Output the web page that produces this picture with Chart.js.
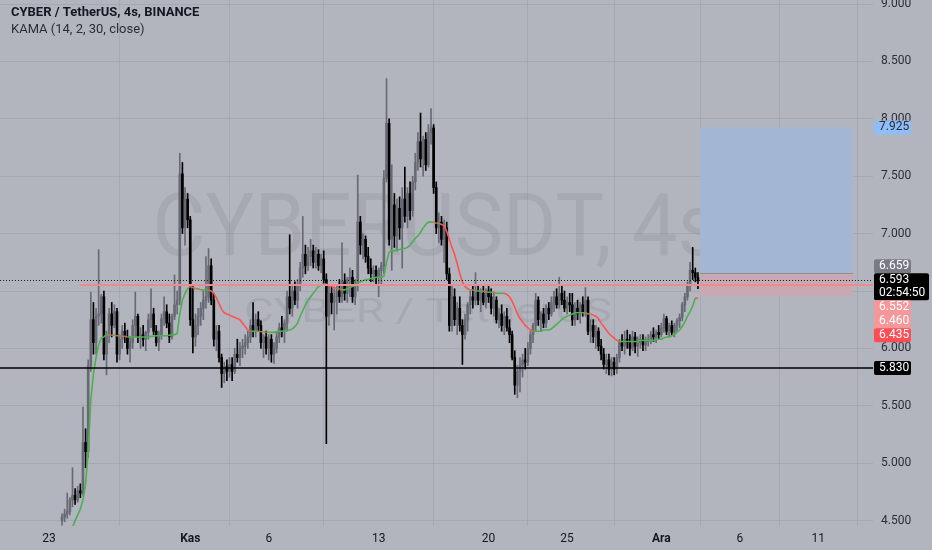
<!DOCTYPE html>
<html>
<head>
<meta charset="utf-8">
<script src="https://cdn.jsdelivr.net/npm/chart.js@4.4.0/dist/chart.umd.min.js"></script>
<style>
  html, body { margin: 0; padding: 0; background: #b2b5be; }
  canvas { display: block; }
</style>
</head>
<body>
<canvas id="chart" width="932" height="550"></canvas>
<script>
// 4h candles, slot 0 = 23 Eki 00:00, first candle at 23 Eki 20:00
const firstSlot = 5;

const opens = [
  4.50,4.53,4.56,4.58,4.68, 4.72,4.68,4.76,4.74,5.18, 5.10,5.85,6.25,6.05,6.28, 6.30,6.45,5.95,6.12,6.30,
  6.20,6.32,5.95,6.08,6.15, 6.10,6.00,6.05,6.20,6.28, 6.10,6.12,6.08,6.14,6.25, 6.30,6.15,6.05,6.12,6.26,
  6.32,6.22,6.10,6.28,6.38, 6.42,7.52,7.05,7.30,7.12, 6.25,6.10,6.20,6.28,6.35, 6.42,6.45,6.72,6.42,6.08,
  6.15,5.92,5.78,5.84,5.80, 5.86,5.80,5.95,5.92,6.00, 6.02,6.05,6.10,6.20,6.15, 6.25,6.20,6.05,6.10,6.00,
  6.08,5.95,6.00,6.10,6.18, 6.15,6.22,6.45,6.35,6.50, 6.42,6.55,6.70,6.82,6.72, 6.80,6.85,6.75,6.82,6.72,
  6.78,6.60,6.28,6.48,6.40, 6.45,6.50,6.45,6.58,6.48, 6.60,6.62,6.45,6.55,7.10, 6.90,6.95,6.80,6.70,6.65,
  6.68,6.62,6.68,6.72,7.48, 7.96,6.95,7.25,6.98,7.22, 7.05,7.30,7.15,7.35,7.20, 7.45,7.62,7.80,7.65,7.82,
  7.60,7.88,7.92,7.40,7.05, 7.10,6.95,7.05,6.65,6.20, 6.45,6.25,6.35,6.20,6.12, 6.25,6.38,6.45,6.42,6.50,
  6.42,6.48,6.40,6.50,6.45, 6.35,6.42,6.25,6.30,6.20, 6.28,6.18,6.12,5.92,5.68, 5.80,5.86,5.90,5.88,6.00,
  6.12,6.20,6.42,6.25,6.30, 6.22,6.35,6.30,6.40,6.45, 6.38,6.48,6.42,6.35,6.40, 6.38,6.25,6.35,6.30,6.38,
  6.32,6.42,6.15,6.20,6.10, 6.15,6.02,5.95,5.86,5.90, 5.82,5.88,5.82,5.92,6.05, 6.02,6.08,6.05,6.00,6.10,
  6.02,6.05,6.08,6.03,6.06, 6.08,6.12,6.10,6.14,6.12, 6.18,6.26,6.15,6.20,6.14, 6.20,6.24,6.27,6.38,6.45,
  6.55,6.68,6.66,6.62
];
const highs = [
  4.56,4.60,4.74,4.70,4.96, 4.78,4.80,4.82,5.49,5.30, 5.90,6.49,6.40,6.35,6.86, 6.47,6.50,6.15,6.35,6.40,
  6.38,6.35,6.12,6.20,6.22, 6.16,6.10,6.25,6.49,6.30, 6.18,6.20,6.15,6.30,6.52, 6.35,6.20,6.15,6.30,6.45,
  6.38,6.30,6.30,6.64,6.50, 7.70,7.62,7.40,7.35,7.15, 6.55,6.30,6.35,6.40,6.50, 6.80,6.87,6.78,6.48,6.20,
  6.20,5.95,5.88,5.90,5.92, 5.92,6.00,6.08,6.05,6.08, 6.12,6.15,6.25,6.40,6.30, 6.32,6.24,6.12,6.15,6.12,
  6.12,6.05,6.15,6.22,6.28, 6.25,6.50,6.99,6.55,6.58, 6.60,6.75,7.15,6.90,6.88, 6.95,6.90,6.88,6.86,6.82,
  6.85,6.65,6.55,6.55,6.52, 6.55,6.60,6.92,6.65,6.62, 6.70,6.68,6.60,7.51,7.15, 7.00,6.98,6.88,6.78,6.72,
  6.72,6.70,6.75,7.55,8.35, 8.00,7.60,7.35,7.30,7.32, 7.40,7.58,7.40,7.45,7.50, 7.70,7.88,8.05,7.85,7.88,
  7.95,8.09,7.95,7.45,7.18, 7.15,7.12,7.10,6.70,6.55, 6.52,6.40,6.45,6.25,6.30, 6.40,6.50,6.55,6.66,6.55,
  6.52,6.55,6.52,6.55,6.52, 6.48,6.45,6.35,6.38,6.32, 6.35,6.25,6.15,5.98,5.85, 5.92,5.95,6.00,6.05,6.15,
  6.22,6.48,6.45,6.32,6.35, 6.38,6.40,6.45,6.50,6.52, 6.62,6.55,6.50,6.45,6.48, 6.48,6.40,6.42,6.40,6.45,
  6.53,6.45,6.25,6.25,6.20, 6.18,6.08,6.00,5.95,5.95, 5.92,5.92,5.95,6.08,6.12, 6.15,6.16,6.12,6.15,6.14,
  6.10,6.12,6.12,6.10,6.12, 6.15,6.18,6.16,6.20,6.22, 6.30,6.28,6.22,6.24,6.22, 6.26,6.30,6.40,6.48,6.58,
  6.75,6.88,6.70,6.66
];
const lows = [
  4.46,4.49,4.52,4.55,4.62, 4.64,4.66,4.70,4.72,4.96, 5.05,5.80,5.95,5.95,6.20, 6.22,5.90,5.77,6.05,6.10,
  6.18,5.88,5.90,6.00,6.05, 5.95,5.88,6.00,6.10,6.05, 6.00,6.02,5.98,6.08,6.18, 6.12,6.02,5.98,6.08,6.20,
  6.18,6.05,6.08,6.25,6.30, 6.38,7.00,6.90,7.05,6.20, 5.96,6.02,6.12,6.20,6.25, 6.35,6.40,6.38,6.02,5.98,
  5.88,5.66,5.70,5.72,5.75, 5.72,5.78,5.88,5.85,5.92, 5.95,6.00,6.05,6.10,6.10, 6.15,6.00,5.92,5.95,5.90,
  5.88,5.87,5.96,6.05,6.10, 6.05,6.15,6.30,6.28,6.38, 6.35,6.50,6.62,6.65,6.68, 6.72,6.70,6.70,6.68,6.66,
  6.55,5.17,6.20,6.30,6.16, 6.30,6.40,6.40,6.42,6.40, 6.45,6.40,6.38,6.50,6.82, 6.78,6.75,6.65,6.58,6.58,
  6.55,6.45,6.55,6.65,7.45, 6.90,6.68,6.88,6.85,6.95, 6.70,7.10,7.05,7.12,7.15, 7.38,7.55,7.58,7.50,7.55,
  7.58,7.78,7.35,7.00,6.92, 6.90,6.75,6.60,6.15,6.15, 6.20,6.12,6.15,5.86,6.08, 6.15,6.30,6.35,6.38,6.38,
  6.32,6.38,6.35,6.40,6.30, 6.28,6.22,6.18,6.15,6.12, 6.15,6.05,5.90,5.60,5.57, 5.62,5.75,5.82,5.85,5.95,
  6.05,6.15,6.20,6.15,6.18, 6.18,6.25,6.28,6.32,6.35, 6.35,6.38,6.32,6.30,6.32, 6.20,6.20,6.25,6.22,6.28,
  6.28,6.12,6.05,6.05,6.00, 5.98,5.90,5.82,5.78,5.77, 5.76,5.77,5.78,5.88,5.98, 5.95,6.00,5.94,5.98,5.96,
  5.93,6.00,5.98,5.98,6.02, 6.04,6.06,6.05,6.08,6.10, 6.14,6.12,6.10,6.12,6.10, 6.15,6.18,6.24,6.32,6.42,
  6.50,6.60,6.58,6.52
];
const closes = [
  4.53,4.56,4.58,4.68,4.72, 4.68,4.76,4.74,5.18,5.10, 5.85,6.25,6.05,6.28,6.30, 6.45,5.95,6.12,6.30,6.20,
  6.32,5.95,6.08,6.15,6.10, 6.00,6.05,6.20,6.28,6.10, 6.12,6.08,6.14,6.25,6.30, 6.15,6.05,6.12,6.26,6.32,
  6.22,6.10,6.28,6.38,6.42, 7.52,7.05,7.30,7.12,6.25, 6.10,6.20,6.28,6.35,6.42, 6.45,6.72,6.42,6.08,6.15,
  5.92,5.78,5.84,5.80,5.86, 5.80,5.95,5.92,6.00,6.02, 6.05,6.10,6.20,6.15,6.25, 6.20,6.05,6.10,6.00,6.08,
  5.95,6.00,6.10,6.18,6.15, 6.22,6.45,6.35,6.50,6.42, 6.55,6.70,6.82,6.72,6.80, 6.85,6.75,6.82,6.72,6.78,
  6.60,6.28,6.48,6.40,6.45, 6.50,6.45,6.58,6.48,6.60, 6.62,6.45,6.55,7.10,6.90, 6.95,6.80,6.70,6.65,6.68,
  6.62,6.68,6.72,7.48,7.96, 6.95,7.25,6.98,7.22,7.05, 7.30,7.15,7.35,7.20,7.45, 7.62,7.80,7.65,7.82,7.60,
  7.88,7.92,7.40,7.05,7.10, 6.95,7.05,6.65,6.20,6.45, 6.25,6.35,6.20,6.12,6.25, 6.38,6.45,6.42,6.50,6.42,
  6.48,6.40,6.50,6.45,6.35, 6.42,6.25,6.30,6.20,6.28, 6.18,6.12,5.92,5.68,5.80, 5.86,5.90,5.88,6.00,6.12,
  6.20,6.42,6.25,6.30,6.22, 6.35,6.30,6.40,6.45,6.38, 6.48,6.42,6.35,6.40,6.38, 6.25,6.35,6.30,6.38,6.32,
  6.42,6.15,6.20,6.10,6.15, 6.02,5.95,5.86,5.90,5.82, 5.88,5.82,5.92,6.05,6.02, 6.08,6.05,6.00,6.10,6.02,
  6.05,6.08,6.03,6.06,6.08, 6.12,6.10,6.14,6.12,6.18, 6.26,6.15,6.20,6.14,6.20, 6.24,6.27,6.38,6.45,6.55,
  6.68,6.66,6.62,6.593
];
// KAMA (14, 2, 30, close)
const kama = [
  null,null,null,null,4.44, 4.50,4.55,4.60,4.68,4.82, 5.10,5.55,5.78,5.92,6.03, 6.09,6.10,6.12,6.12,6.115,
  6.115,6.11,6.11,6.105,6.105, 6.10,6.10,6.10,6.10,6.10, 6.10,6.10,6.10,6.10,6.105, 6.105,6.11,6.11,6.11,6.11,
  6.11,6.115,6.12,6.12,6.13, 6.30,6.42,6.48,6.52,6.54, 6.53,6.52,6.52,6.51,6.51, 6.51,6.51,6.50,6.48,6.44,
  6.39,6.34,6.31,6.30,6.29, 6.28,6.27,6.26,6.25,6.22, 6.19,6.16,6.15,6.15,6.15, 6.15,6.145,6.145,6.14,6.14,
  6.14,6.14,6.145,6.15,6.15, 6.155,6.16,6.16,6.17,6.19, 6.22,6.28,6.33,6.38,6.42, 6.45,6.48,6.51,6.54,6.55,
  6.56,6.56,6.55,6.54,6.53, 6.52,6.52,6.51,6.51,6.52, 6.53,6.54,6.55,6.57,6.58, 6.59,6.60,6.60,6.61,6.61,
  6.62,6.62,6.62,6.63,6.75, 6.84,6.85,6.85,6.86,6.86, 6.87,6.87,6.88,6.90,6.93, 6.96,6.98,7.01,7.05,7.08,
  7.10,7.10,7.10,7.09,7.09, 7.08,7.07,7.02,6.95,6.88, 6.82,6.74,6.65,6.58,6.54, 6.52,6.51,6.51,6.50,6.50,
  6.50,6.50,6.49,6.49,6.49, 6.49,6.48,6.48,6.48,6.48, 6.47,6.45,6.41,6.36,6.30, 6.26,6.23,6.20,6.18,6.16,
  6.15,6.15,6.15,6.15,6.16, 6.16,6.16,6.17,6.19,6.21, 6.23,6.25,6.27,6.28,6.29, 6.30,6.31,6.31,6.31,6.31,
  6.31,6.30,6.30,6.29,6.28, 6.26,6.22,6.19,6.16,6.13, 6.11,6.09,6.07,6.06,6.06, 6.06,6.06,6.06,6.06,6.06,
  6.06,6.07,6.07,6.07,6.07, 6.07,6.07,6.08,6.08,6.08, 6.09,6.10,6.10,6.11,6.12, 6.14,6.16,6.19,6.23,6.28,
  6.32,6.37,6.44,6.435
];

const xTickSlots = [0, 54, 84, 126, 168, 198, 234, 264, 294];
const xTickLabels = ["23", "Kas", "6", "13", "20", "25", "Ara", "6", "11"];
const monthLabels = ["Kas", "Ara"];
const yTicks = [4.5, 5, 5.5, 6, 6.5, 7, 7.5, 8, 8.5, 9];

// drawings
const supportLevel = 5.830;
const rayLevel = 6.552;
const raySlot = 12;
const lastPrice = 6.593;
const countdown = "02:54:50";
const posFrom = 248.8, posTo = 307.3;
const posTarget = 7.925, posEntry = 6.659, posStop = 6.460;

const FONT = "Roboto, 'Liberation Sans', sans-serif";
const upColor = "#676a74";
const downColor = "#000000";

const candleColor = closes.map((c, i) => c >= opens[i] ? upColor : downColor);

function fitText(ctx, text, size, cx, base, width) {
    ctx.font = size + "px " + FONT;
    const w = ctx.measureText(text).width;
    ctx.save();
    ctx.translate(cx, base);
    ctx.scale(width / w, 1);
    ctx.textAlign = "center";
    ctx.textBaseline = "alphabetic";
    ctx.fillText(text, 0, 0);
    ctx.restore();
}

function tag(ctx, top, h, w, bg, fg, lines) {
    ctx.fillStyle = bg;
    ctx.beginPath();
    ctx.roundRect(874, top, w, h, 2);
    ctx.fill();
    ctx.fillStyle = fg;
    ctx.font = "12px " + FONT;
    ctx.textAlign = "left";
    ctx.textBaseline = "middle";
    lines.forEach((t, k) => ctx.fillText(t, 879, top + 7 + k * 13));
}

const overlay = {
    id: "overlay",
    beforeDatasetsDraw(chart) {
        const { ctx, chartArea: a, scales: { x, y } } = chart;
        ctx.save();
        ctx.fillStyle = "rgba(105,108,120,0.16)";
        fitText(ctx, "CYBERUSDT, 4s", 87, 436, 255, 567);
        fitText(ctx, "CYBER / TetherUS", 33, 428, 322, 368);

        const x0 = x.getPixelForValue(posFrom), x1 = x.getPixelForValue(posTo);
        const yT = y.getPixelForValue(posTarget), yE = y.getPixelForValue(posEntry), yS = y.getPixelForValue(posStop);
        ctx.fillStyle = "#a3b7d4";
        ctx.fillRect(x0, yT, x1 - x0, yE - yT);
        ctx.fillStyle = "#c8a9b1";
        ctx.fillRect(x0, yE, x1 - x0, yS - yE);
        ctx.fillStyle = "#8c8f99";
        ctx.fillRect(x0, Math.round(yE), x1 - x0, 1);
        ctx.restore();
    },
    afterDatasetsDraw(chart) {
        const { ctx, chartArea: a, scales: { x, y } } = chart;
        ctx.save();
        // price line
        const yp = Math.round(y.getPixelForValue(lastPrice)) + 0.5;
        ctx.strokeStyle = "#131722";
        ctx.lineWidth = 1;
        ctx.setLineDash([1, 2]);
        ctx.beginPath(); ctx.moveTo(a.left, yp); ctx.lineTo(a.right, yp); ctx.stroke();
        ctx.setLineDash([]);
        // ray
        const yr = y.getPixelForValue(rayLevel);
        ctx.strokeStyle = "#f08a8f";
        ctx.lineWidth = 2;
        ctx.beginPath(); ctx.moveTo(x.getPixelForValue(raySlot), yr); ctx.lineTo(a.right, yr); ctx.stroke();
        // support
        const ys = y.getPixelForValue(supportLevel);
        ctx.strokeStyle = "#000000";
        ctx.lineWidth = 1.5;
        ctx.beginPath(); ctx.moveTo(a.left, ys); ctx.lineTo(a.right, ys); ctx.stroke();
        ctx.restore();
    },
    afterDraw(chart) {
        const { ctx, scales: { y } } = chart;
        ctx.save();
        // header
        ctx.fillStyle = "#131722";
        ctx.textAlign = "left";
        ctx.textBaseline = "middle";
        ctx.font = "bold 13px " + FONT;
        ctx.fillText("CYBER / TetherUS, 4s, BINANCE", 11, 13);
        ctx.fillStyle = "#2a2e39";
        ctx.font = "13px " + FONT;
        ctx.fillText("KAMA (14, 2, 30, close)", 11, 30);

        // price scale tags
        tag(ctx, y.getPixelForValue(posTarget) - 7, 14, 37, "#8fbdf6", "#2a2e39", [posTarget.toFixed(3)]);
        const pTop = y.getPixelForValue(lastPrice) - 7;
        tag(ctx, pTop - 14, 14, 37, "#787b86", "#ffffff", [posEntry.toFixed(3)]);
        tag(ctx, pTop, 27, 55, "#000000", "#ffffff", [lastPrice.toFixed(3), countdown]);
        tag(ctx, pTop + 27, 14, 37, "#f7979a", "#ffffff", [rayLevel.toFixed(3)]);
        tag(ctx, pTop + 41, 14, 37, "#f7979a", "#ffffff", [posStop.toFixed(3)]);
        tag(ctx, pTop + 55, 14, 37, "#ff4d55", "#ffffff", [kama[kama.length - 1].toFixed(3)]);
        tag(ctx, y.getPixelForValue(supportLevel) - 7, 14, 37, "#000000", "#ffffff", [supportLevel.toFixed(3)]);
        ctx.restore();
    }
};

const gridColor = "rgba(150,153,163,0.45)";

new Chart(document.getElementById("chart"), {
    type: "bar",
    data: {
        datasets: [{
            label: "wick",
            data: highs.map((h, i) => ({ x: firstSlot + i, y: [lows[i], h] })),
            backgroundColor: candleColor,
            barThickness: 1,
            grouped: false,
            order: 3
        }, {
            label: "body",
            data: opens.map((o, i) => ({ x: firstSlot + i, y: [o, closes[i]] })),
            backgroundColor: candleColor,
            barThickness: 2,
            grouped: false,
            order: 2
        }, {
            type: "line",
            label: "KAMA",
            data: kama.map((k, i) => ({ x: firstSlot + i, y: k })),
            borderWidth: 1.6,
            pointRadius: 0,
            spanGaps: false,
            segment: {
                borderColor: c => c.p1.parsed.y < c.p0.parsed.y ? "#ff5252" : "#4caf50"
            },
            order: 1
        }]
    },
    options: {
        responsive: false,
        animation: false,
        devicePixelRatio: 1,
        layout: { padding: 0 },
        plugins: { legend: { display: false }, tooltip: { enabled: false } },
        scales: {
            x: {
                type: "linear",
                min: -18.7,
                max: 314.9,
                offset: false,
                border: { display: false },
                grid: { color: gridColor, drawTicks: false },
                afterBuildTicks: s => { s.ticks = xTickSlots.map(v => ({ value: v })); },
                afterFit: s => { s.height = 24; s.paddingLeft = 0; s.paddingRight = 0; },
                ticks: {
                    autoSkip: false,
                    maxRotation: 0,
                    padding: 6,
                    color: "#131722",
                    font: c => ({
                        family: FONT, size: 12,
                        weight: monthLabels.includes(xTickLabels[xTickSlots.indexOf(c.tick && c.tick.value)]) ? "bold" : "normal"
                    }),
                    callback: v => xTickLabels[xTickSlots.indexOf(v)]
                }
            },
            y: {
                position: "right",
                min: 4.453,
                max: 9.035,
                border: { display: false },
                grid: { color: gridColor, drawTicks: false },
                afterBuildTicks: s => { s.ticks = yTicks.map(v => ({ value: v })); },
                afterFit: s => { s.width = 59; s.paddingTop = 0; s.paddingBottom = 0; },
                ticks: {
                    padding: 8,
                    color: "#2a2e39",
                    font: { family: FONT, size: 12 },
                    callback: v => v.toFixed(3)
                }
            }
        }
    },
    plugins: [overlay]
});
</script>
</body>
</html>
